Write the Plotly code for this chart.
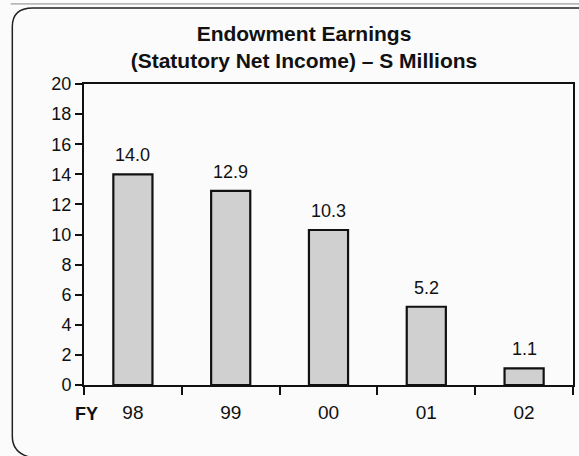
import plotly.graph_objects as go

categories = ["98", "99", "00", "01", "02"]
values = [14.0, 12.9, 10.3, 5.2, 1.1]
labels = ["14.0", "12.9", "10.3", "5.2", "1.1"]
y_ticks = list(range(0, 21, 2))

FONT = "Liberation Sans, Arial, sans-serif"
INK = "#111"

fig = go.Figure()
fig.add_trace(go.Bar(
    x=categories, y=values,
    marker=dict(color="#d0d0d0", line=dict(color=INK, width=2.2)),
    width=0.4,
))

fig.update_layout(
    width=579, height=456,
    margin=dict(l=84, r=4, t=84, b=71),
    paper_bgcolor="#fbfbfb", plot_bgcolor="#fbfbfb",
    showlegend=False,
    title=dict(text="<b>Endowment Earnings<br>(Statutory Net Income) – S Millions</b>",
               x=0.525, xanchor="center", y=0.91, yanchor="top",
               font=dict(family=FONT, size=21, color=INK)),
    font=dict(family=FONT, size=18, color=INK),
    xaxis=dict(type="category", categoryorder="array", categoryarray=categories,
               range=[-0.5, len(categories) - 0.5],
               showline=True, linecolor=INK, linewidth=2,
               mirror=True, ticks="outside", tickson="boundaries", ticklen=8,
               tickwidth=1.5, tickcolor=INK, showgrid=False,
               ticklabelstandoff=9,
               tickfont=dict(family=FONT, size=19, color=INK)),
    yaxis=dict(range=[0, 20], tickvals=y_ticks, showline=True, linecolor=INK,
               linewidth=2, mirror=True, ticks="outside", ticklen=7, tickwidth=1.5,
               tickcolor=INK, showgrid=False, zeroline=False,
               tickfont=dict(family=FONT, size=18, color=INK)),
    shapes=[
        dict(type="path", xref="paper", yref="paper", layer="below",
             path="M 1.1,1.2525 L -0.105,1.2525 "
                  "Q -0.1466,1.2525 -0.1466,1.19 L -0.1466,-0.17 "
                  "Q -0.1466,-0.225 -0.11,-0.24",
             line=dict(color="#222", width=1.5)),
        dict(type="line", xref="paper", yref="paper", x0=-0.15, x1=1.1,
             y0=1.266, y1=1.266, line=dict(color="#888", width=1)),
    ],
)

for i, (v, t) in enumerate(zip(values, labels)):
    fig.add_annotation(x=i, y=v, xref="x", yref="y", text=t, showarrow=False,
                       yanchor="bottom", yshift=7,
                       font=dict(family=FONT, size=18, color=INK))

fig.add_annotation(text="<b>FY</b>", xref="paper", yref="paper", x=0.032, y=-0.095,
                   xanchor="right", yanchor="middle", showarrow=False,
                   font=dict(family=FONT, size=18, color=INK))

fig.write_html("out.html")
